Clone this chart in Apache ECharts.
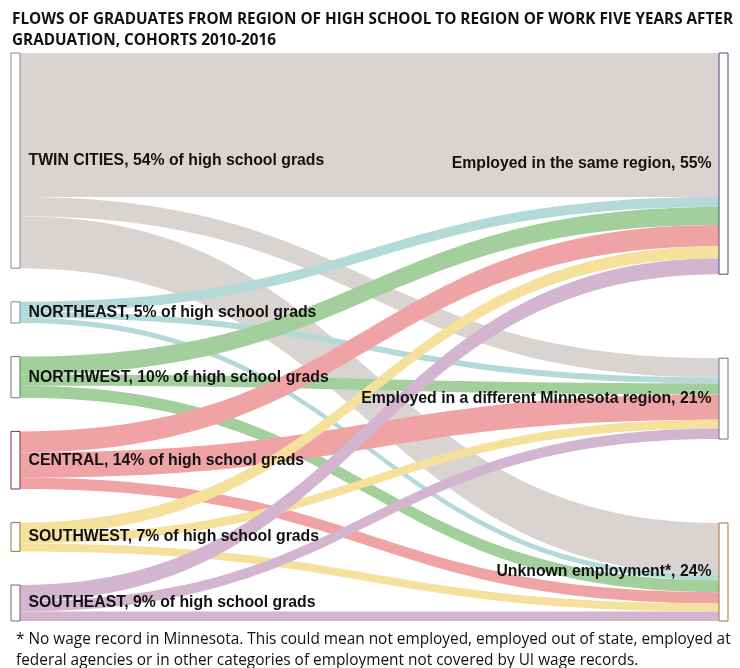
<!DOCTYPE html>
<html><head><meta charset="utf-8">
<script src="https://cdn.jsdelivr.net/npm/echarts@6/dist/echarts.min.js"></script>
<style>html,body{margin:0;padding:0;background:#fff}#c{width:740px;height:668px}</style>
</head><body><div id="c"></div>
<script>
// ---- data ----
const sources = ['TWIN CITIES', 'NORTHEAST', 'NORTHWEST', 'CENTRAL', 'SOUTHWEST', 'SOUTHEAST'];
const sourceShares = [54, 5, 10, 14, 7, 9];
const targets = ['Employed in the same region', 'Employed in a different Minnesota region', 'Unknown employment*'];
const targetShares = [55, 21, 24];
// percent of all graduates, by source region
const sameRegion        = [36.0, 2.5, 4.5, 5.3, 3.0, 4.0];
const differentRegion   = [4.8, 1.5, 2.8, 6.3, 2.2, 2.6];
const unknownEmployment = [13.0, 1.3, 3.0, 2.8, 2.0, 2.4];

// ---- styles ----
const linkColors = ['#d9d4d2', '#b3d9d9', '#a3cf9c', '#efa3a5', '#f5e09c', '#d4b5cf'];
const sourceBorders = ['#8a8a8a', '#6f9593', '#5f845a', '#8e2e30', '#8d7c42', '#7d6279'];
const targetBorders = ['#3e5070', '#5f708a', '#a3743f'];

const W = 740, H = 668;
const box = { left: 11, top: 53, right: 12, bottom: 47 };
const boxH = H - box.top - box.bottom;
const nodeGap = 33.6;

const flows = [sameRegion, differentRegion, unknownEmployment];
const targetTotals = flows.map(a => a.reduce((s, v) => s + v, 0));
const sourceTotals = sources.map((_, i) => flows.reduce((s, a) => s + a[i], 0));
const sumLeft = sourceTotals.reduce((s, v) => s + v, 0);
const sumRight = targetTotals.reduce((s, v) => s + v, 0);
const ky = (boxH - (sources.length - 1) * nodeGap) / sumLeft;
// spread the right column evenly over the full height (justified layout)
const rightGap = (boxH - sumRight * ky) / (targets.length - 1);
let acc = 0;
const targetLocalY = targetTotals.map((v, i) => { const y = acc; acc += v * ky + rightGap; return y / boxH; });

const nodes = [];
sources.forEach((s, i) => nodes.push({
  name: s,
  itemStyle: { color: '#fff', borderColor: sourceBorders[i], borderWidth: 1 },
  label: { position: 'right', distance: 8, formatter: s + ', ' + sourceShares[i] + '% of high school grads' }
}));
targets.forEach((t, j) => nodes.push({
  name: t,
  localY: targetLocalY[j],
  itemStyle: { color: '#fff', borderColor: targetBorders[j], borderWidth: 1 },
  label: { position: 'left', distance: 7, formatter: t + ', ' + targetShares[j] + '%' }
}));

const links = [];
sources.forEach((s, i) => {
  targets.forEach((t, j) => {
    links.push({ source: s, target: t, value: flows[j][i], lineStyle: { color: linkColors[i], opacity: 1 } });
  });
});

const chart = echarts.init(document.getElementById('c'), null, { renderer: 'canvas' });
chart.setOption({
  backgroundColor: '#fff',
  animation: false,
  title: [{
    text: 'FLOWS OF GRADUATES FROM REGION OF HIGH SCHOOL TO REGION OF WORK FIVE YEARS AFTER\nGRADUATION, COHORTS 2010-2016',
    left: 7, top: 4,
    textStyle: { fontFamily: 'Open Sans', fontWeight: 'bold', fontSize: 15.3, lineHeight: 21, color: '#111' }
  }, {
    text: '* No wage record in Minnesota. This could mean not employed, employed out of state, employed at\nfederal agencies or in other categories of employment not covered by UI wage records.',
    left: 11, top: 624,
    textStyle: { fontFamily: 'Open Sans', fontWeight: 'normal', fontSize: 15.4, lineHeight: 21, color: '#111' }
  }],
  series: [{
    type: 'sankey',
    left: box.left, top: box.top, right: box.right, bottom: box.bottom,
    nodeWidth: 9,
    nodeGap: nodeGap,
    layoutIterations: 0,
    draggable: false,
    emphasis: { disabled: true },
    label: { color: '#111', fontFamily: 'Liberation Sans', fontWeight: 'bold', fontSize: 15.8 },
    lineStyle: { curveness: 0.5, opacity: 1 },
    data: nodes,
    links: links
  }]
});
</script>
</body></html>
